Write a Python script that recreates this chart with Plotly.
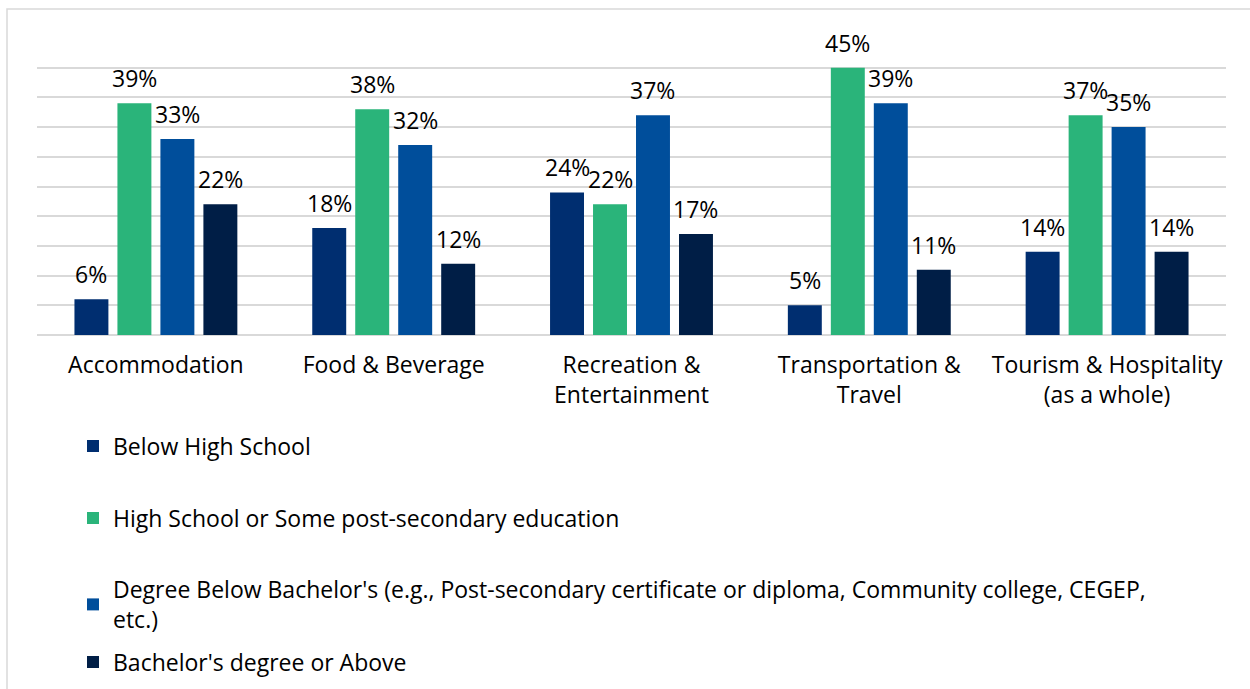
import plotly.graph_objects as go

# Education level of the workforce by tourism & hospitality industry
categories = [
    "Accommodation",
    "Food & Beverage",
    "Recreation &<br>Entertainment",
    "Transportation &<br>Travel",
    "Tourism & Hospitality<br>(as a whole)",
]

below_high_school = [6, 18, 24, 5, 14]
high_school_some_post = [39, 38, 22, 45, 37]
degree_below_bachelor = [33, 32, 37, 39, 35]
bachelor_or_above = [22, 12, 17, 11, 14]

series_names = [
    "Below High School",
    "High School or Some post-secondary education",
    "Degree Below Bachelor's (e.g., Post-secondary certificate or diploma, Community college, CEGEP,<br>etc.)",
    "Bachelor's degree or Above",
]
series_values = [below_high_school, high_school_some_post, degree_below_bachelor, bachelor_or_above]
colors = ["#002E70", "#2AB47A", "#004E9B", "#001E46"]

FONT = "'Open Sans', 'Noto Sans', sans-serif"
FS = 23

W, H = 1250, 689
M_L, M_R, M_T, M_B = 37, 24, 38, 354
plot_w = W - M_L - M_R
plot_h = H - M_T - M_B

BARGAP = 0.277
BARGROUPGAP = 0.21

fig = go.Figure()
legend_ids = ["legend", "legend2", "legend3", "legend4"]
legend_px = [446, 518, 568, 662]  # vertical anchor of each legend entry

for i, (name, vals, col) in enumerate(zip(series_names, series_values, colors)):
    fig.add_trace(go.Bar(
        x=categories, y=vals, name=name,
        marker=dict(color=col, line=dict(width=0)),
        legend=legend_ids[i],
    ))

# value labels above each bar
cat_w = plot_w / len(categories)
slot = cat_w * (1 - BARGAP) / 4
annotations = []
for i, vals in enumerate(series_values):
    offset = (i - 1.5) * slot
    for c, v in zip(categories, vals):
        annotations.append(dict(
            x=c, y=v, xref="x", yref="y", text=f"{v}%", showarrow=False,
            xanchor="center", yanchor="bottom", xshift=offset, yshift=7,
            font=dict(family=FONT, size=FS, color="#000000"),
        ))

layout_legends = {}
for i, lid in enumerate(legend_ids):
    y_px = legend_px[i]
    layout_legends[lid] = dict(
        x=(73 - M_L) / plot_w, xanchor="left",
        y=(M_T + plot_h - y_px) / plot_h, yanchor="middle",
        font=dict(family=FONT, size=FS, color="#000000"),
        bgcolor="rgba(0,0,0,0)", borderwidth=0,
    )
# the two-line entry is anchored by its top edge
layout_legends["legend3"]["yanchor"] = "top"

fig.update_layout(
    width=W, height=H,
    margin=dict(l=M_L, r=M_R, t=M_T, b=M_B, pad=0, autoexpand=False),
    paper_bgcolor="#FFFFFF", plot_bgcolor="#FFFFFF",
    barmode="group", bargap=BARGAP, bargroupgap=BARGROUPGAP,
    font=dict(family=FONT, size=FS, color="#000000"),
    showlegend=True,
    annotations=annotations,
    xaxis=dict(
        showgrid=False, showline=False, ticks="", zeroline=False,
        tickfont=dict(family=FONT, size=FS, color="#000000"),
        ticklabelstandoff=14,
    ),
    yaxis=dict(
        range=[0, 50], dtick=5, showticklabels=False, ticks="",
        showgrid=True, gridcolor="#D9D9D9", gridwidth=1.5,
        zeroline=True, zerolinecolor="#D9D9D9", zerolinewidth=1.5,
        showline=False,
    ),
    shapes=[dict(
        type="rect", xref="paper", yref="paper", layer="below",
        x0=(7 - M_L) / plot_w, x1=(1260 - M_L) / plot_w,
        y0=(M_T + plot_h - 700) / plot_h, y1=(M_T + plot_h - 9) / plot_h,
        line=dict(color="#D9D9D9", width=1.5), fillcolor="rgba(0,0,0,0)",
    )],
    **layout_legends,
)

fig.write_html("out.html")
